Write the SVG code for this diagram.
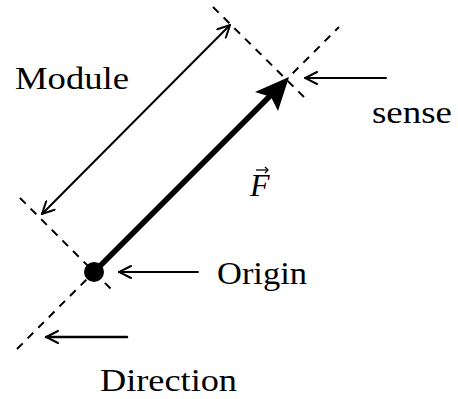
<svg xmlns="http://www.w3.org/2000/svg" width="458" height="399" viewBox="0 0 458 399">
<defs>
<style>
.dash{stroke:#000;stroke-width:2;stroke-dasharray:8,7;fill:none}
.ln{stroke:#000;fill:none;stroke-linecap:round}
.t{font-family:"Liberation Serif","Times New Roman",serif;font-size:32px;fill:#000}
</style>
<marker id="open" viewBox="0 0 14 14" refX="13" refY="7" markerWidth="14" markerHeight="14" markerUnits="userSpaceOnUse" orient="auto-start-reverse">
<path d="M1,1 L13,7 L1,13" fill="none" stroke="#000" stroke-width="2" stroke-linecap="round"/>
</marker>
</defs>
<rect width="458" height="399" fill="#fff"/>
<g id="connectors">
<line class="dash" x1="17" y1="349" x2="339" y2="27"/>
<line class="dash" x1="20" y1="198" x2="113" y2="291"/>
<line class="dash" x1="213" y1="7" x2="307" y2="100"/>
<line class="ln" x1="42" y1="214" x2="230" y2="25" stroke-width="2" marker-start="url(#open)" marker-end="url(#open)"/>
<line class="ln" x1="94" y1="272" x2="270" y2="96" stroke-width="5.5"/>
<path d="M289,77 L278,111 L271,97 L255,92 Z" fill="#000"/>
<line class="ln" x1="386" y1="78" x2="305" y2="78" stroke-width="2" marker-end="url(#open)"/>
<line class="ln" x1="198" y1="272" x2="119" y2="272" stroke-width="2" stroke="#333" marker-end="url(#open)"/>
<line class="ln" x1="127" y1="337" x2="46" y2="337" stroke-width="2.5" marker-end="url(#open)"/>
</g>
<g id="origin"><circle cx="94" cy="272" r="10" fill="#000"/><text class="t" x="217" y="284" textLength="90" lengthAdjust="spacingAndGlyphs">Origin</text></g>
<g id="module"><text class="t" x="15" y="89" textLength="114" lengthAdjust="spacingAndGlyphs">Module</text></g>
<g id="sense"><text class="t" x="372" y="123" textLength="80" lengthAdjust="spacingAndGlyphs">sense</text></g>
<g id="direction"><text class="t" x="100" y="391" textLength="137" lengthAdjust="spacingAndGlyphs">Direction</text></g>
<g id="force"><text class="t" x="250" y="196" font-style="italic" font-size="32">F</text>
<line x1="256" y1="170" x2="268" y2="170" stroke="#000" stroke-width="1.3"/>
<path d="M265,167 L268,170 L265,173" fill="none" stroke="#000" stroke-width="1.3"/></g>
</svg>
